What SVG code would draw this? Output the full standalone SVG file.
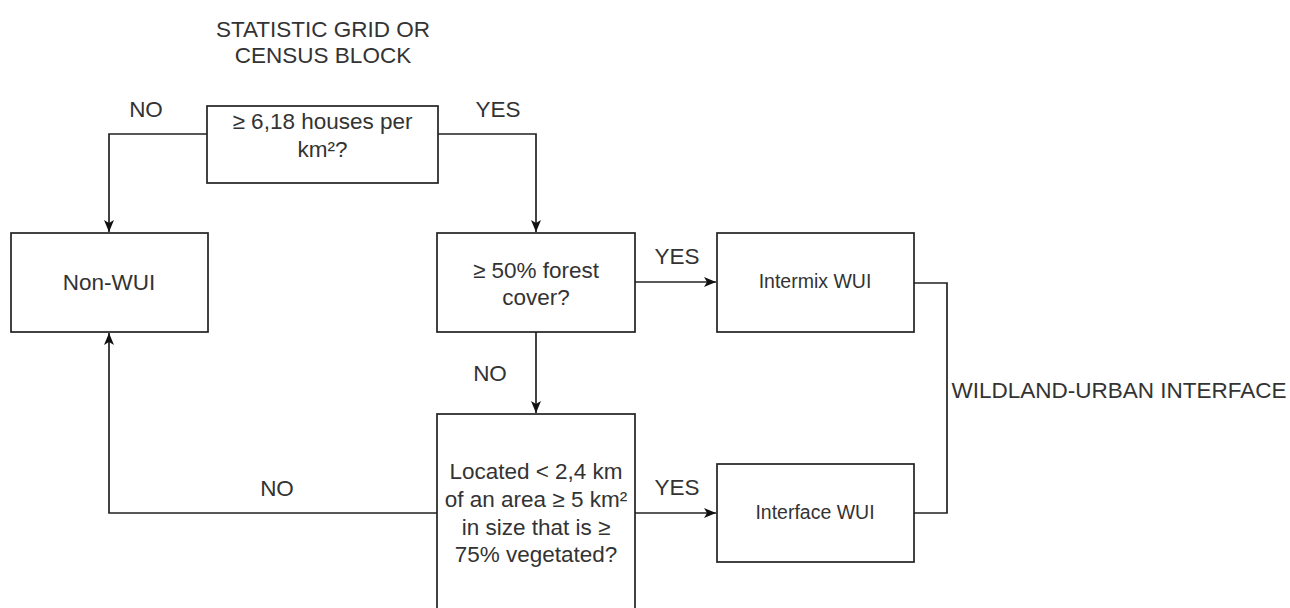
<svg xmlns="http://www.w3.org/2000/svg" width="1290" height="608" viewBox="0 0 1290 608">
<style>
.box{fill:#ffffff;stroke:#222222;stroke-width:1.7}
.t{font-family:"Liberation Sans",Arial,sans-serif;font-size:22.5px;fill:#333333;text-anchor:middle}
.s{font-family:"Liberation Sans",Arial,sans-serif;font-size:19.5px;fill:#333333;text-anchor:middle}
.c{fill:none;stroke:#222222;stroke-width:1.7}
</style>
<defs>
<marker id="arr" markerUnits="userSpaceOnUse" markerWidth="14" markerHeight="12" viewBox="0 0 14 12" refX="13" refY="6" orient="auto">
<path d="M1,1 L13,6 L1,11 L4,6 z" fill="#111111"/>
</marker>
</defs>
<rect width="1290" height="608" fill="#ffffff"/>
<text class="t" x="323" y="37">STATISTIC GRID OR</text>
<text class="t" x="323" y="63">CENSUS BLOCK</text>
<g id="connectors">
<path class="c" d="M207,134 H109 V232" marker-end="url(#arr)"/>
<path class="c" d="M438,134 H536 V232" marker-end="url(#arr)"/>
<path class="c" d="M635,282 H716" marker-end="url(#arr)"/>
<path class="c" d="M536,332 V413" marker-end="url(#arr)"/>
<path class="c" d="M635,513 H716" marker-end="url(#arr)"/>
<path class="c" d="M437,513 H109 V333" marker-end="url(#arr)"/>
<path class="c" d="M914,283 H947 V513 H914"/>
<text class="t" x="146" y="117">NO</text>
<text class="t" x="498" y="117">YES</text>
<text class="t" x="677" y="264">YES</text>
<text class="t" x="490" y="381">NO</text>
<text class="t" x="677" y="495">YES</text>
<text class="t" x="277" y="496">NO</text>
<text class="t" x="1119" y="398">WILDLAND-URBAN INTERFACE</text>
</g>
<g id="n_density">
<rect class="box" x="207" y="106" width="231" height="77"/>
<text class="t" x="322.5" y="129">≥ 6,18 houses per</text>
<text class="t" x="322.5" y="157">km²?</text>
</g>
<g id="n_nonwui">
<rect class="box" x="11" y="233" width="197" height="99"/>
<text class="t" x="109" y="290">Non-WUI</text>
</g>
<g id="n_forest">
<rect class="box" x="437" y="233" width="198" height="99"/>
<text class="t" x="536" y="278">≥ 50% forest</text>
<text class="t" x="536" y="305">cover?</text>
</g>
<g id="n_intermix">
<rect class="box" x="717" y="233" width="197" height="99"/>
<text class="s" x="815" y="288">Intermix WUI</text>
</g>
<g id="n_located">
<rect class="box" x="437" y="414" width="198" height="200"/>
<text class="t" x="536" y="479">Located &lt; 2,4 km</text>
<text class="t" x="536" y="507">of an area ≥ 5 km²</text>
<text class="t" x="536" y="535">in size that is ≥</text>
<text class="t" x="536" y="562">75% vegetated?</text>
</g>
<g id="n_interface">
<rect class="box" x="717" y="464" width="197" height="98"/>
<text class="s" x="815" y="519">Interface WUI</text>
</g>
</svg>
